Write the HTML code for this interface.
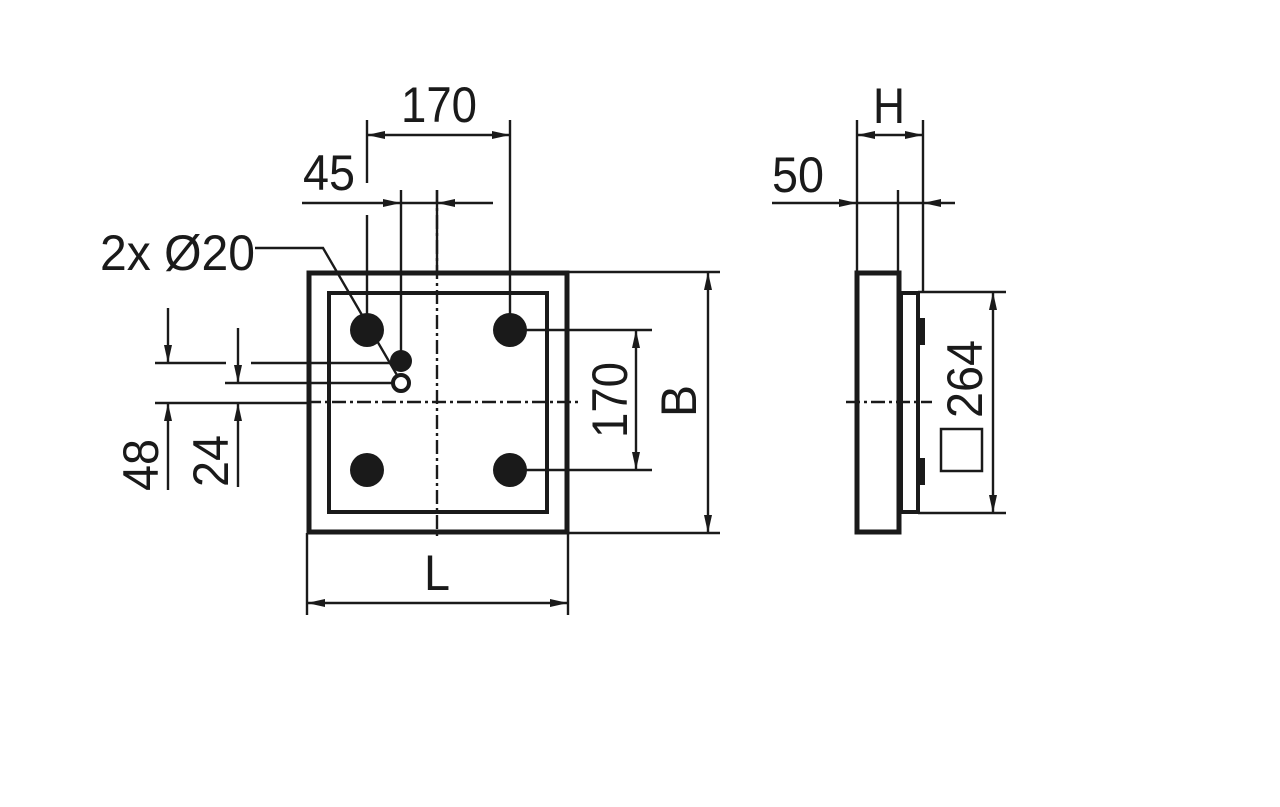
<!DOCTYPE html>
<html><head><meta charset="utf-8"><style>html,body{margin:0;padding:0;background:#fff}svg{display:block}</style></head>
<body>
<svg width="1280" height="807" viewBox="0 0 1280 807" xmlns="http://www.w3.org/2000/svg">
<defs>
<marker id="a" viewBox="0 0 18 10" refX="18" refY="5" markerWidth="18" markerHeight="10" markerUnits="userSpaceOnUse" orient="auto-start-reverse"><path d="M0,1 L18,5 L0,9 z" fill="#1a1a1a"/></marker>
</defs>
<g fill="none" stroke="#1a1a1a" stroke-width="2.4">
<rect x="309" y="273" width="258" height="259" stroke-width="5"/>
<rect x="329" y="293" width="218" height="219" stroke-width="4"/>
<line x1="437" y1="190" x2="437" y2="540" stroke-dasharray="14,4,3,4"/>
<line x1="307" y1="402" x2="578" y2="402" stroke-dasharray="14,4,3,4"/>
<line x1="367" y1="120" x2="367" y2="183"/>
<line x1="510" y1="120" x2="510" y2="330"/>
<line x1="367" y1="135" x2="510" y2="135" marker-start="url(#a)" marker-end="url(#a)"/>
<line x1="302" y1="203" x2="401" y2="203" marker-end="url(#a)"/>
<line x1="493" y1="203" x2="437" y2="203" marker-end="url(#a)"/>
<line x1="401" y1="203" x2="437" y2="203"/>
<line x1="367" y1="215" x2="367" y2="330"/>
<line x1="401" y1="190" x2="401" y2="360"/>
<line x1="437" y1="190" x2="437" y2="272"/>
<polyline points="255,248 323,248 401,382"/>
<line x1="155" y1="363" x2="226" y2="363"/>
<line x1="251" y1="363" x2="401" y2="363"/>
<line x1="225" y1="383" x2="401" y2="383"/>
<line x1="155" y1="403" x2="307" y2="403"/>
<line x1="168" y1="308" x2="168" y2="363" marker-end="url(#a)"/>
<line x1="168" y1="490" x2="168" y2="403" marker-end="url(#a)"/>
<line x1="238" y1="328" x2="238" y2="383" marker-end="url(#a)"/>
<line x1="238" y1="487" x2="238" y2="403" marker-end="url(#a)"/>
<line x1="510" y1="330" x2="652" y2="330"/>
<line x1="510" y1="470" x2="652" y2="470"/>
<line x1="636" y1="330" x2="636" y2="470" marker-start="url(#a)" marker-end="url(#a)"/>
<line x1="568" y1="272" x2="720" y2="272"/>
<line x1="568" y1="533" x2="720" y2="533"/>
<line x1="708" y1="272" x2="708" y2="533" marker-start="url(#a)" marker-end="url(#a)"/>
<line x1="307" y1="533" x2="307" y2="615"/>
<line x1="568" y1="533" x2="568" y2="615"/>
<line x1="307" y1="603" x2="568" y2="603" marker-start="url(#a)" marker-end="url(#a)"/>
<rect x="857" y="273" width="42" height="259" stroke-width="5"/>
<rect x="901" y="293" width="17" height="219" stroke-width="4"/>
<line x1="857" y1="120" x2="857" y2="272"/>
<line x1="923" y1="120" x2="923" y2="292"/>
<line x1="898" y1="190" x2="898" y2="272"/>
<line x1="857" y1="135" x2="923" y2="135" marker-start="url(#a)" marker-end="url(#a)"/>
<line x1="772" y1="203" x2="857" y2="203" marker-end="url(#a)"/>
<line x1="955" y1="203" x2="923" y2="203" marker-end="url(#a)"/>
<line x1="857" y1="203" x2="923" y2="203"/>
<line x1="918" y1="292" x2="1006" y2="292"/>
<line x1="918" y1="513" x2="1006" y2="513"/>
<line x1="993" y1="292" x2="993" y2="513" marker-start="url(#a)" marker-end="url(#a)"/>
<line x1="846" y1="402" x2="932" y2="402" stroke-dasharray="14,4,3,4"/>
<rect x="941" y="429" width="41" height="42" stroke-width="2.5"/>
</g>
<g fill="#1a1a1a">
<circle cx="367" cy="330" r="17"/><circle cx="510" cy="330" r="17"/>
<circle cx="367" cy="470" r="17"/><circle cx="510" cy="470" r="17"/>
<circle cx="401" cy="361" r="11"/>
<rect x="918" y="318" width="7" height="27"/><rect x="918" y="458" width="7" height="27"/>
</g>
<circle cx="401" cy="383" r="8" fill="#fff" stroke="#1a1a1a" stroke-width="4"/>
<g font-family="Liberation Sans, sans-serif" font-size="50" fill="#1a1a1a">
<text x="401" y="122" textLength="76" lengthAdjust="spacingAndGlyphs">170</text>
<text x="303" y="190" textLength="52" lengthAdjust="spacingAndGlyphs">45</text>
<text x="100" y="270" textLength="155" lengthAdjust="spacingAndGlyphs">2x Ø20</text>
<text x="873" y="123" textLength="32" lengthAdjust="spacingAndGlyphs">H</text>
<text x="772" y="192" textLength="52" lengthAdjust="spacingAndGlyphs">50</text>
<text x="424" y="590" textLength="26" lengthAdjust="spacingAndGlyphs">L</text>
<text transform="translate(158,491) rotate(-90)" textLength="52" lengthAdjust="spacingAndGlyphs">48</text>
<text transform="translate(228,487) rotate(-90)" textLength="52" lengthAdjust="spacingAndGlyphs">24</text>
<text transform="translate(627,438) rotate(-90)" textLength="76" lengthAdjust="spacingAndGlyphs">170</text>
<text transform="translate(696,417) rotate(-90)" textLength="32" lengthAdjust="spacingAndGlyphs">B</text>
<text transform="translate(982,418) rotate(-90)" textLength="78" lengthAdjust="spacingAndGlyphs">264</text>
</g>
</svg>
</body></html>
